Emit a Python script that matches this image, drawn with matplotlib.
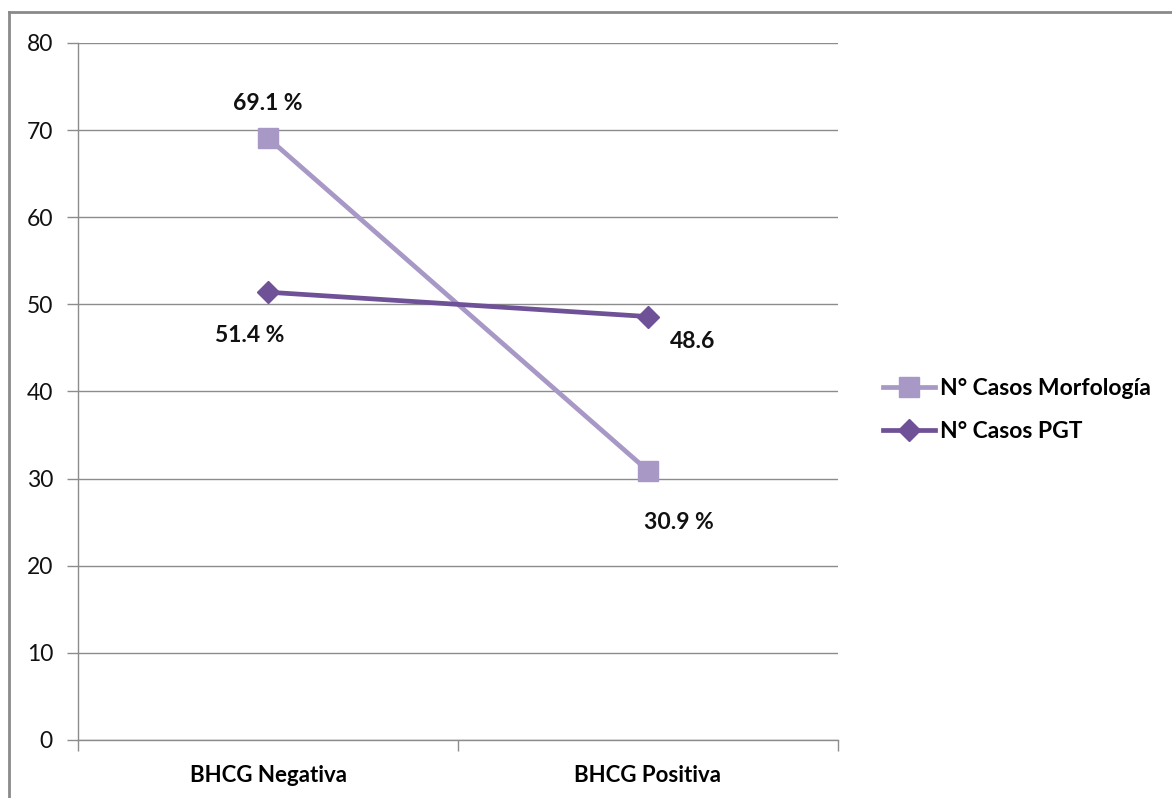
import matplotlib
matplotlib.use("Agg")
import matplotlib.pyplot as plt
from matplotlib.lines import Line2D

categories = ["BHCG Negativa", "BHCG Positiva"]
morfologia = [69.1, 30.9]
pgt = [51.4, 48.6]
morf_labels = ["69.1 %", "30.9 %"]
pgt_labels = ["51.4 %", "48.6"]
y_ticks = [0, 10, 20, 30, 40, 50, 60, 70, 80]

plt.rcParams["font.family"] = ["Lato", "DejaVu Sans"]

W, H = 1172, 798
fig = plt.figure(figsize=(W / 100, H / 100), dpi=100)
ax = fig.add_axes([78 / W, 1 - 740 / H, (838 - 78) / W, (740 - 43) / H])

c_morf = "#A898C6"
c_pgt = "#6E5196"
grid_c = "#8C8C8C"

x = [i + 0.5 for i in range(len(categories))]
ax.plot(x, morfologia, color=c_morf, lw=3.4, marker="s", ms=14,
        label="N° Casos Morfología", zorder=3)
ax.plot(x, pgt, color=c_pgt, lw=3.4, marker="D", ms=11,
        label="N° Casos PGT", zorder=4)

ax.set_xlim(0, len(categories))
ax.set_ylim(0, 80)
ax.set_yticks(y_ticks)
ax.tick_params(axis="y", length=8, width=1, color=grid_c, pad=10,
               labelsize=16.5, labelcolor="#111111")
ax.yaxis.grid(True, color=grid_c, lw=1)
ax.set_axisbelow(True)

ax.set_xticks(range(len(categories) + 1))
ax.set_xticklabels([])
ax.tick_params(axis="x", which="major", length=8, width=1, color=grid_c)
ax.set_xticks(x, minor=True)
ax.set_xticklabels(categories, minor=True, fontweight="bold", fontsize=16)
ax.tick_params(axis="x", which="minor", length=0, pad=18)

for s in ["top", "right"]:
    ax.spines[s].set_visible(False)
for s in ["left", "bottom"]:
    ax.spines[s].set_color(grid_c)
    ax.spines[s].set_linewidth(1)

lab_kw = dict(fontsize=16.5, fontweight="bold", color="#111111",
              textcoords="offset points", va="center")
ax.annotate(morf_labels[0], (x[0], morfologia[0]), xytext=(0, 25),
            ha="center", **lab_kw)
ax.annotate(morf_labels[1], (x[1], morfologia[1]), xytext=(22, -37),
            ha="center", **lab_kw)
ax.annotate(pgt_labels[0], (x[0], pgt[0]), xytext=(-13, -31),
            ha="center", **lab_kw)
ax.annotate(pgt_labels[1], (x[1], pgt[1]), xytext=(32, -18),
            ha="center", **lab_kw)

fig.legend(loc="center left", bbox_to_anchor=(862 / W, 1 - 410 / H),
           frameon=False, prop={"weight": "bold", "size": 16.5},
           handlelength=2.3, handletextpad=0.2, labelspacing=1.0)

# outer chart border (top and left edges)
fig.add_artist(Line2D([9 / W, 1], [1 - 12 / H, 1 - 12 / H],
                      transform=fig.transFigure, color="#8A8A8A", lw=2))
fig.add_artist(Line2D([9 / W, 9 / W], [0, 1 - 12 / H],
                      transform=fig.transFigure, color="#8A8A8A", lw=2))

fig.savefig("out.png", dpi=100)
